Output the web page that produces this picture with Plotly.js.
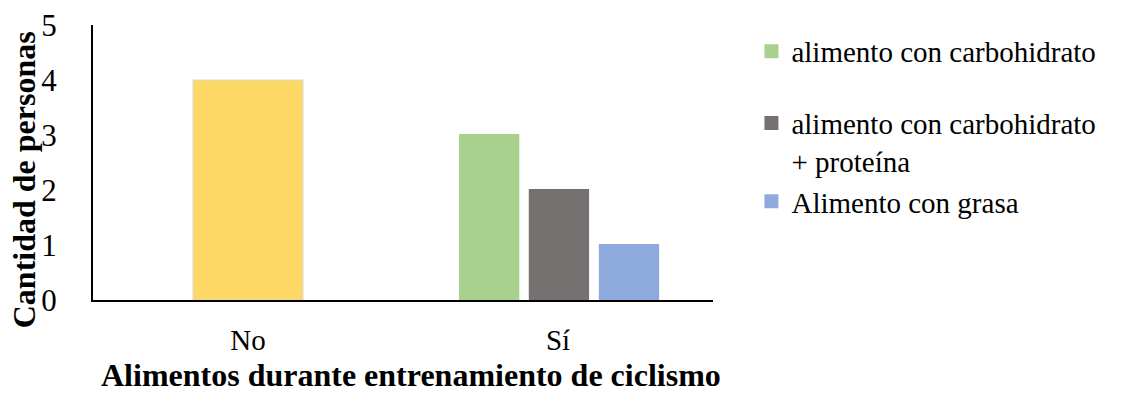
<!DOCTYPE html>
<html>
<head>
<meta charset="utf-8">
<script src="https://cdn.plot.ly/plotly-3.0.1.min.js"></script>
<style>html,body{margin:0;padding:0;background:#fff;}#chart{width:1129px;height:394px;}</style>
</head>
<body>
<div id="chart"></div>
<script>
var categories = ['No', 'Sí'];
var seriesNames = ['alimento con carbohidrato', 'alimento con carbohidrato<br>+ proteína', 'Alimento con grasa'];
var noValues = [4];            // category "No"
var carbValues = [3];          // "Sí"
var carbProtValues = [2];      // "Sí"
var fatValues = [1];           // "Sí"
var yTicks = [0, 1, 2, 3, 4, 5];
var xTitle = 'Alimentos durante entrenamiento de ciclismo';
var yTitle = 'Cantidad de personas';

var serif = 'Liberation Serif';

var traces = [
  {type: 'bar', x: [categories[0]], y: noValues, name: 'No', showlegend: false,
   width: 0.355, offset: -0.1775,
   marker: {color: '#FDD865', line: {color: '#D9D9D9', width: 1}}},
  {type: 'bar', x: [categories[1]], y: carbValues, name: seriesNames[0], legendgroup: 'g1',
   width: 0.188, offset: -0.316,
   marker: {color: '#A9D18E', line: {color: '#A9D18E', width: 2}}},
  {type: 'bar', x: [categories[1]], y: carbProtValues, name: seriesNames[1], legendgroup: 'g2',
   width: 0.188, offset: -0.091,
   marker: {color: '#767171', line: {color: '#767171', width: 2}}},
  {type: 'bar', x: [categories[1]], y: fatValues, name: seriesNames[2], legendgroup: 'g2',
   width: 0.188, offset: 0.135,
   marker: {color: '#8FAADC', line: {color: '#8FAADC', width: 2}}}
];

var layout = {
  width: 1129, height: 394,
  margin: {l: 93, r: 416, t: 25, b: 94},
  paper_bgcolor: '#fff', plot_bgcolor: '#fff',
  barmode: 'overlay',
  font: {family: serif, color: '#000', size: 28},
  xaxis: {
    type: 'category', range: [-0.5, 1.5],
    showline: true, linecolor: '#000', linewidth: 2,
    showgrid: false, zeroline: false, ticks: '',
    ticklabelstandoff: 13,
    tickfont: {size: 29, family: serif}
  },
  yaxis: {
    range: [0, 5], tickvals: yTicks,
    showline: true, linecolor: '#000', linewidth: 2,
    showgrid: false, zeroline: false, ticks: '',
    ticklabelstandoff: 28,
    tickfont: {size: 31, family: serif}
  },
  annotations: [{
    text: '<b>' + yTitle + '</b>', textangle: -90,
    xref: 'paper', yref: 'paper', x: -0.111, y: 0.436,
    xanchor: 'center', yanchor: 'middle', showarrow: false,
    font: {size: 32, family: serif, color: '#000'}
  }, {
    text: '<b>' + xTitle + '</b>',
    xref: 'paper', yref: 'paper', x: 0.513, y: -0.272,
    xanchor: 'center', yanchor: 'middle', showarrow: false,
    font: {size: 32, family: serif, color: '#000'}
  }],
  legend: {
    x: 1.062, y: 0.997, xanchor: 'left', yanchor: 'top',
    font: {size: 29, family: serif, color: '#000'},
    valign: 'top', bgcolor: 'rgba(0,0,0,0)', itemwidth: 30,
    traceorder: 'grouped', tracegroupgap: 31
  },
  showlegend: true
};

Plotly.newPlot('chart', traces, layout, {displayModeBar: false, staticPlot: true});
</script>
</body>
</html>
